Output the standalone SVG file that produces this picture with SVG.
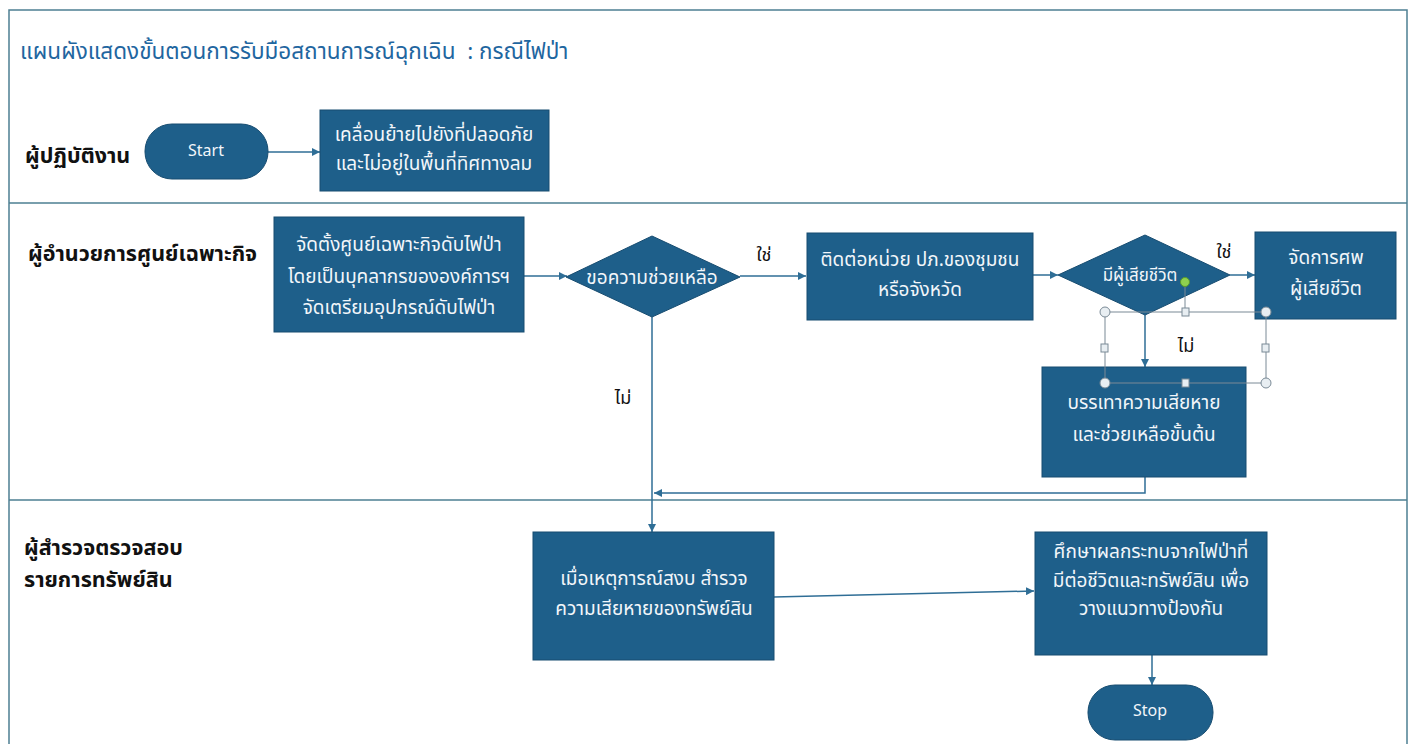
<svg xmlns="http://www.w3.org/2000/svg" width="1416" height="744" viewBox="0 0 1416 744">
<defs>
<marker id="arr" viewBox="0 0 10 10" refX="10" refY="5" markerWidth="8" markerHeight="8" markerUnits="userSpaceOnUse" orient="auto">
<path d="M0,0 L10,5 L0,10 z" fill="#2f6e96"/>
</marker>
<style>
.frame{fill:none;stroke:#4d7f92;stroke-width:1.5}
.box{fill:#1e5f8a;stroke:#174c70;stroke-width:1}
.t{font-family:"Noto Sans Thai","Noto Sans","DejaVu Sans",sans-serif;fill:#f2f6fa;text-anchor:middle;font-size:19px}
.en{font-family:"Noto Sans","DejaVu Sans",sans-serif;fill:#f2f6fa;text-anchor:middle;font-size:16px}
.lane{font-family:"Noto Sans Thai","Noto Sans","DejaVu Sans",sans-serif;fill:#111;font-size:21.5px;font-weight:bold}
.lbl{font-family:"Noto Sans Thai","Noto Sans","DejaVu Sans",sans-serif;fill:#111;font-size:18px;text-anchor:middle}
.title{font-family:"Noto Sans Thai","Noto Sans","DejaVu Sans",sans-serif;fill:#1f66a0;font-size:22.5px;white-space:pre}
.con{fill:none;stroke:#2f6e96;stroke-width:1.5}
.sel{fill:none;stroke:#7a8a96;stroke-width:1}
.hc{fill:#e8eef2;stroke:#7a8a96;stroke-width:1}
</style>
</defs>
<rect width="1416" height="744" fill="#ffffff"/>
<g id="frame">
<rect class="frame" x="9" y="10" width="1398" height="740"/>
<line class="frame" x1="9" y1="203" x2="1407" y2="203"/>
<line class="frame" x1="9" y1="500" x2="1407" y2="500"/>
</g>
<text id="title" class="title" x="20" y="59" xml:space="preserve">แผนผังแสดงขั้นตอนการรับมือสถานการณ์ฉุกเฉิน  : กรณีไฟป่า</text>
<g id="lanes">
<text class="lane" x="25" y="163">ผู้ปฏิบัติงาน</text>
<text class="lane" x="28" y="261">ผู้อำนวยการศูนย์เฉพาะกิจ</text>
<text class="lane" x="24" y="555">ผู้สำรวจตรวจสอบ</text>
<text class="lane" x="24" y="587">รายการทรัพย์สิน</text>
</g>
<g id="connectors">
<line class="con" x1="268" y1="152" x2="320" y2="152" marker-end="url(#arr)"/>
<line class="con" x1="524" y1="276" x2="567" y2="276" marker-end="url(#arr)"/>
<line class="con" x1="740" y1="276" x2="806" y2="276" marker-end="url(#arr)"/>
<line class="con" x1="1033" y1="275" x2="1058" y2="275" marker-end="url(#arr)"/>
<line class="con" x1="1230" y1="275" x2="1255" y2="275" marker-end="url(#arr)"/>
<line class="con" x1="1145" y1="315" x2="1145" y2="367" marker-end="url(#arr)"/>
<polyline class="con" points="1145,477 1145,493 654,493" marker-end="url(#arr)"/>
<line class="con" x1="652" y1="317" x2="652" y2="532" marker-end="url(#arr)"/>
<line class="con" x1="774" y1="597" x2="1034" y2="591" marker-end="url(#arr)"/>
<line class="con" x1="1152" y1="655" x2="1152" y2="685" marker-end="url(#arr)"/>
<text class="lbl" x="764" y="261">ใช่</text>
<text class="lbl" x="1224" y="258">ใช่</text>
<text class="lbl" x="1186" y="352">ไม่</text>
<text class="lbl" x="623" y="404">ไม่</text>
</g>
<g id="start">
<rect class="box" x="145" y="124" width="123" height="55" rx="27" ry="27"/>
<text class="en" x="206" y="156">Start</text>
</g>
<g id="move">
<rect class="box" x="320" y="110" width="229" height="81"/>
<text class="t" x="434" y="141">เคลื่อนย้ายไปยังที่ปลอดภัย</text>
<text class="t" x="434" y="170">และไม่อยู่ในพื้นที่ทิศทางลม</text>
</g>
<g id="setup">
<rect class="box" x="274" y="217" width="250" height="115"/>
<text class="t" x="399" y="251">จัดตั้งศูนย์เฉพาะกิจดับไฟป่า</text>
<text class="t" x="399" y="283">โดยเป็นบุคลากรขององค์การฯ</text>
<text class="t" x="399" y="314">จัดเตรียมอุปกรณ์ดับไฟป่า</text>
</g>
<g id="help">
<polygon class="box" points="566,277 652,236 740,277 652,317"/>
<text class="t" x="652" y="284">ขอความช่วยเหลือ</text>
</g>
<g id="contact">
<rect class="box" x="807" y="233" width="226" height="87"/>
<text class="t" x="920" y="266">ติดต่อหน่วย  ปภ.ของชุมชน</text>
<text class="t" x="920" y="296">หรือจังหวัด</text>
</g>
<g id="dead">
<polygon class="box" points="1058,275 1145,235 1230,275 1145,315"/>
<text class="t" x="1140" y="281" style="font-size:17px">มีผู้เสียชีวิต</text>
</g>
<g id="corpse">
<rect class="box" x="1255" y="232" width="141" height="87"/>
<text class="t" x="1326" y="264">จัดการศพ</text>
<text class="t" x="1326" y="295">ผู้เสียชีวิต</text>
</g>
<g id="relief">
<rect class="box" x="1042" y="367" width="204" height="110"/>
<text class="t" x="1144" y="409">บรรเทาความเสียหาย</text>
<text class="t" x="1144" y="441">และช่วยเหลือขั้นต้น</text>
</g>
<g id="survey">
<rect class="box" x="533" y="532" width="241" height="128"/>
<text class="t" x="654" y="585">เมื่อเหตุการณ์สงบ สำรวจ</text>
<text class="t" x="654" y="615">ความเสียหายของทรัพย์สิน</text>
</g>
<g id="study">
<rect class="box" x="1035" y="532" width="232" height="123"/>
<text class="t" x="1151" y="558">ศึกษาผลกระทบจากไฟป่าที่</text>
<text class="t" x="1151" y="587">มีต่อชีวิตและทรัพย์สิน เพื่อ</text>
<text class="t" x="1151" y="615">วางแนวทางป้องกัน</text>
</g>
<g id="stop">
<rect class="box" x="1088" y="685" width="125" height="55" rx="27" ry="27"/>
<text class="en" x="1150" y="716">Stop</text>
</g>
<g id="selection">
<line class="sel" x1="1185" y1="282" x2="1185" y2="312"/>
<rect class="sel" x="1105" y="312" width="161" height="71"/>
<circle cx="1185" cy="282" r="4.5" fill="#8fd14f" stroke="#5a9a2a"/>
<circle class="hc" cx="1105" cy="312" r="5"/>
<circle class="hc" cx="1266" cy="312" r="5"/>
<circle class="hc" cx="1105" cy="383" r="5"/>
<circle class="hc" cx="1266" cy="383" r="5"/>
<rect class="hc" x="1182" y="308" width="7" height="8"/>
<rect class="hc" x="1101" y="344" width="7" height="8"/>
<rect class="hc" x="1262" y="344" width="7" height="8"/>
<rect class="hc" x="1182" y="379" width="7" height="8"/>
</g>
</svg>
